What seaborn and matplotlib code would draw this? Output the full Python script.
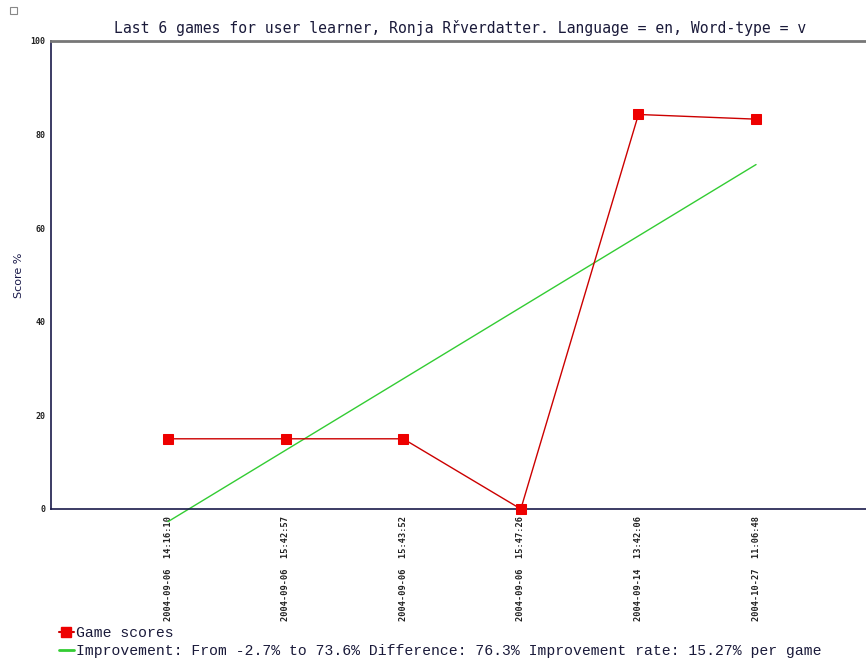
import matplotlib
matplotlib.use("Agg")
import matplotlib.pyplot as plt
import seaborn as sns
import pandas as pd
from matplotlib.lines import Line2D
from matplotlib.patches import Rectangle

# ---- data ----
game_times = ["2004-09-06  14:16:10", "2004-09-06  15:42:57", "2004-09-06  15:43:52",
              "2004-09-06  15:47:26", "2004-09-14  13:42:06", "2004-10-27  11:06:48"]
scores = [15, 15, 15, 0, 84.3, 83.3]
trend_start = -2.7
trend_end = 73.6
y_ticks = [0, 20, 40, 60, 80, 100]
title = "Last 6 games for user learner, Ronja Rřverdatter. Language = en, Word-type = v"
legend_scores = "Game scores"
legend_trend = "Improvement: From -2.7% to 73.6% Difference: 76.3% Improvement rate: 15.27% per game"

sns.set_theme(style="white")
plt.rcParams['font.family'] = ['DejaVu Sans']

W, H = 866, 661
fig = plt.figure(figsize=(W / 100, H / 100), dpi=100)
ax = fig.add_axes([51 / W, 1 - 509 / H, (W - 51) / W, (509 - 41) / H])

df = pd.DataFrame({"game": list(range(len(scores))), "score": scores})
sns.lineplot(data=df, x="game", y="score", ax=ax, color="#cc0000", lw=1.0,
             marker="s", markersize=7, markerfacecolor="#ee0000",
             markeredgecolor="#ee0000", clip_on=False, zorder=3)
trend_df = pd.DataFrame({"game": [0, len(scores) - 1], "score": [trend_start, trend_end]})
sns.lineplot(data=trend_df, x="game", y="score", ax=ax, color="#33cc33", lw=1.0,
             clip_on=False, zorder=2)

ax.set_xlim(-0.995, 5.935)
ax.set_ylim(0, 100)
ax.set_xticks(list(range(len(game_times))))
ax.set_xticklabels(game_times, rotation=90, family="DejaVu Sans Mono",
                   fontsize=6.2, fontweight="bold", color="#222222", va="top")
ax.set_yticks(y_ticks)
ax.set_yticklabels([str(v) for v in y_ticks], family="DejaVu Sans Mono",
                   fontsize=6, fontweight="bold", color="#222222")
ax.tick_params(axis="both", direction="in", length=4, width=1, color="#1a1a4a")
ax.tick_params(axis="x", pad=5)
ax.tick_params(axis="y", pad=4)
ax.set_xlabel("")
ax.set_ylabel("Score %", fontsize=8, color="#1a1a4a", labelpad=5)

for side in ["left", "bottom"]:
    ax.spines[side].set_visible(True)
    ax.spines[side].set_color("#1a1a4a")
    ax.spines[side].set_linewidth(1.2)
ax.spines["top"].set_visible(True)
ax.spines["top"].set_color("#777777")
ax.spines["top"].set_linewidth(2)
ax.spines["right"].set_visible(False)
ax.grid(False)

fig.text(460 / W, 1 - 28 / H, title, ha="center", va="center",
         family="DejaVu Sans Mono", fontsize=10.6, color="#1a1a3a")

# small icon at top-left
fig.patches.append(Rectangle((10 / W, 1 - 14 / H), 7 / W, 7 / H, transform=fig.transFigure,
                             fill=False, edgecolor="#888888", lw=0.8))

handles = [Line2D([], [], color="#cc0000", marker="s", markersize=7,
                  markerfacecolor="#ee0000", markeredgecolor="#ee0000", lw=1.5),
           Line2D([], [], color="#33cc33", lw=2)]
fig.legend(handles, [legend_scores, legend_trend], loc="upper left",
           bbox_to_anchor=(59 / W, 1 - 626 / H), frameon=False,
           prop={"family": "Liberation Mono", "size": 10.6},
           handlelength=1.0, handletextpad=0.15, labelspacing=0.3,
           borderaxespad=0, borderpad=0, labelcolor="#1a1a3a")

fig.savefig("out.png", dpi=100)
